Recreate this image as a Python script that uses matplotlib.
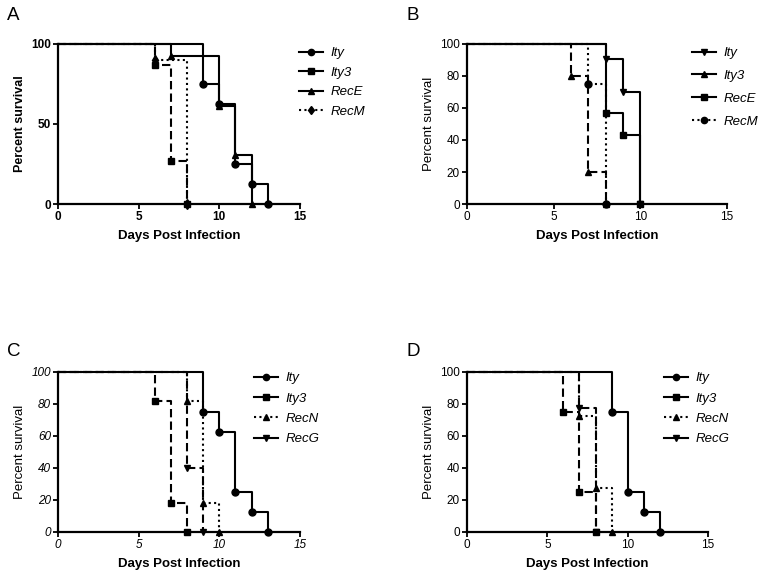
import matplotlib
matplotlib.use('Agg')
import matplotlib.pyplot as plt
from matplotlib.lines import Line2D

plt.rcParams['font.family'] = ['Liberation Sans', 'DejaVu Sans']

# ---- data: event days and percent survival (first point = start) ----
# panel A
a_labels = ['Ity', 'Ity3', 'RecE', 'RecM']
a_days = [[0, 9, 10, 11, 12, 13], [0, 6, 7, 8], [0, 7, 10, 11, 12], [0, 6, 8]]
a_surv = [[100, 75, 62.5, 25, 12.5, 0], [100, 86.7, 26.7, 0],
          [100, 92.3, 61.5, 30.8, 0], [100, 90, 0]]
# panel B
b_labels = ['Ity', 'Ity3', 'RecE', 'RecM']
b_days = [[0, 8, 9, 10], [0, 6, 7, 8], [0, 8, 9, 10], [0, 7, 8]]
b_surv = [[100, 90.9, 70, 0], [100, 80, 20, 0], [100, 57.1, 42.9, 0], [100, 75, 0]]
# panel C
c_labels = ['Ity', 'Ity3', 'RecN', 'RecG']
c_days = [[0, 9, 10, 11, 12, 13], [0, 6, 7, 8], [0, 8, 9, 10], [0, 8, 9]]
c_surv = [[100, 75, 62.5, 25, 12.5, 0], [100, 81.8, 18.2, 0],
          [100, 81.8, 18.2, 0], [100, 40, 0]]
# panel D
d_labels = ['Ity', 'Ity3', 'RecN', 'RecG']
d_days = [[0, 9, 10, 11, 12], [0, 6, 7, 8], [0, 7, 8, 9], [0, 7, 8]]
d_surv = [[100, 75, 25, 12.5, 0], [100, 75, 25, 0], [100, 72.7, 27.3, 0], [100, 77.8, 0]]

SOLID, DASH, DOT = '-', (0, (4, 2)), (0, (1, 1.6))
a_style = [('o', SOLID), ('s', DASH), ('^', SOLID), ('d', DOT)]
b_style = [('v', SOLID), ('^', DASH), ('s', SOLID), ('o', DOT)]
c_style = [('o', SOLID), ('s', DASH), ('^', DOT), ('v', DASH)]
d_style = [('o', SOLID), ('s', DASH), ('^', DOT), ('v', DASH)]

W, H = 763, 578
fig = plt.figure(figsize=(W / 100, H / 100), dpi=100)


def px_axes(left, right, top, bottom):
    return fig.add_axes([left / W, 1 - bottom / H, (right - left) / W, (bottom - top) / H])


def panel(ax, days, surv, styles, labels, yticks, tick_font, ylab_weight, leg_xy, leg_space):
    for t, s, (m, ls) in zip(days, surv, styles):
        ax.step(t, s, where='post', color='black', lw=1.5, ls=ls, clip_on=False)
        ax.plot(t[1:], s[1:], ls='none', marker=m, ms=5, color='black', clip_on=False)
    ax.set_xlim(0, 15)
    ax.set_ylim(0, 100)
    ax.set_xticks([0, 5, 10, 15])
    ax.set_yticks(yticks)
    for side in ('top', 'right'):
        ax.spines[side].set_visible(False)
    for side in ('left', 'bottom'):
        ax.spines[side].set_linewidth(1.6)
    ax.tick_params(direction='out', length=3.5, width=1.3, labelsize=8.5, pad=1.5)
    for lab in ax.get_xticklabels() + ax.get_yticklabels():
        lab.set_fontweight(tick_font.get('weight', 'normal'))
        lab.set_fontstyle(tick_font.get('style', 'normal'))
    ax.set_xlabel('Days Post Infection', fontsize=9.5, fontweight='bold', labelpad=5)
    ax.set_ylabel('Percent survival', fontsize=9 if ylab_weight == 'bold' else 9.5,
                  fontweight=ylab_weight, labelpad=4)
    handles = []
    for (m, ls) in styles:
        hls = DOT if ls == DOT else SOLID
        handles.append(Line2D([], [], color='black', lw=1.5, ls=hls, marker=m, ms=4.5))
    fig.legend(handles, labels, loc='upper left', bbox_to_anchor=(leg_xy[0] / W, 1 - leg_xy[1] / H),
               frameon=False, handlelength=1.8, handletextpad=0.6, labelspacing=leg_space,
               borderaxespad=0, borderpad=0, prop={'style': 'italic', 'size': 9.5})


axA = px_axes(58, 300, 44, 204)
panel(axA, a_days, a_surv, a_style, a_labels, [0, 50, 100], {'weight': 'bold'}, 'bold',
      (299, 47), 0.55)
axB = px_axes(467, 727, 44, 204)
panel(axB, b_days, b_surv, b_style, b_labels, [0, 20, 40, 60, 80, 100], {}, 'normal',
      (692, 47), 0.8)
axC = px_axes(58, 300, 372, 532)
panel(axC, c_days, c_surv, c_style, c_labels, [0, 20, 40, 60, 80, 100], {'style': 'italic'}, 'normal',
      (254, 372), 0.62)
axD = px_axes(467, 708, 372, 532)
panel(axD, d_days, d_surv, d_style, d_labels, [0, 20, 40, 60, 80, 100], {}, 'normal',
      (664, 372), 0.62)

for letter, x, y in [('A', 7, 20), ('B', 406, 20), ('C', 7, 356), ('D', 406, 356)]:
    fig.text(x / W, 1 - y / H, letter, fontsize=13.5, ha='left', va='baseline')

fig.savefig('out.png', dpi=100)
